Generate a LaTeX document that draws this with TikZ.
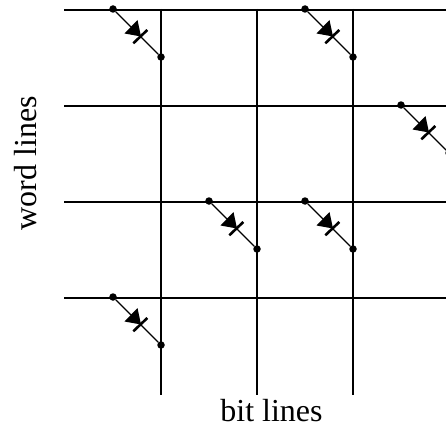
\documentclass[tikz,border=0pt]{standalone}
\usepackage{fontspec}
\setmainfont{Liberation Serif}
\tikzset{
    every node/.style={font=\fontsize{32}{36}\selectfont},
    wire/.style={line width=2pt},
    lead/.style={line width=1.2pt},
    bar/.style={line width=2.6pt},
    junction/.style={circle,fill=black,inner sep=0pt,minimum size=7.5pt}
}
\begin{document}
\begin{tikzpicture}[x=1pt,y=-1pt]
                \useasboundingbox (0,0) rectangle (446,425);
                \clip (0,0) rectangle (446,425);

                % Draw word lines
                \foreach \y [count=\i] in {10,106,202,298} {
                    \coordinate (wl\i) at (64,\y);
                    \coordinate (wr\i) at (446,\y);
                    \draw[wire] (wl\i) -- (wr\i);
                }

                % Draw bit lines
                \foreach \x [count=\i] in {161,257,353} {
                    \coordinate (bt\i) at (\x,9);
                    \coordinate (bb\i) at (\x,394.5);
                    \draw[wire] (bt\i) -- (bb\i);
                }

                % Draw diodes
                \foreach \x/\y [count=\i] in {113/9, 305/9, 401/105, 209/201, 305/201, 113/297} {
                    \node[junction] (a\i) at (\x,\y) {};
                    \node[junction] (k\i) at (\x+48,\y+48) {};
                    \draw[lead] (a\i) -- (k\i);
                    \fill (\x+28,\y+27.5) -- (\x+24.5,\y+11) -- (\x+11.5,\y+24.5) -- cycle;
                    \draw[bar] (\x+20.3,\y+34.3) -- (\x+34.3,\y+21);
                }

                % Labels
                \node[anchor=base,inner sep=0pt] (bitlabel) at (271.5,421) {bit lines};
                \node[anchor=base,rotate=90,inner sep=0pt] (wordlabel) at (36,163) {word lines};
            \end{tikzpicture}
\end{document}
